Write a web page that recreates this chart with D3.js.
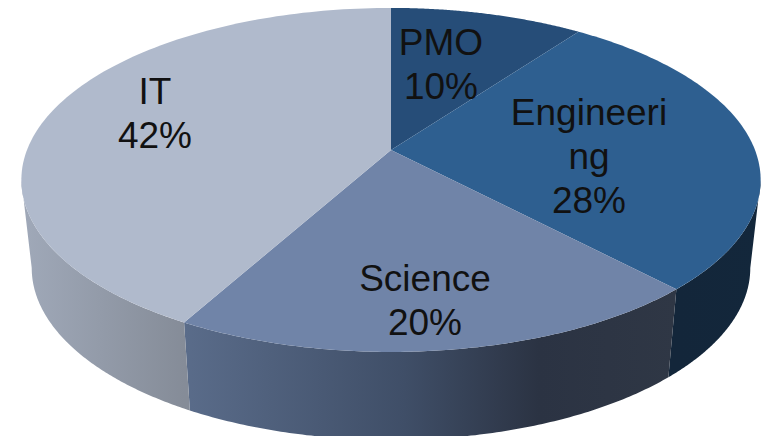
<!DOCTYPE html>
<html>
<head>
<meta charset="utf-8">
<script src="https://cdn.jsdelivr.net/npm/d3@7"></script>
<style>
  html, body { margin: 0; padding: 0; background: #fff; overflow: hidden; }
  text { font-family: "Liberation Sans", Arial, sans-serif; font-size: 37px; fill: #111; }
</style>
</head>
<body>
<svg id="chart" width="763" height="436"></svg>
<script>
const categories = ["PMO", "Engineering", "Science", "IT"];
const percents = [10, 28, 20, 42];
const label_lines = [["PMO", "10%"], ["Engineeri", "ng", "28%"], ["Science", "20%"], ["IT", "42%"]];

const top_colors = ["#264d78", "#2e5f90", "#7084a8", "#b0bacc"];
const wall_stops = [
  [[0, "#264d78"], [1, "#264d78"]],
  [[0, "#13263a"], [1, "#13273b"]],
  [[0, "#5a6c8a"], [0.45, "#3f4e67"], [0.72, "#2b3343"], [1, "#2f3745"]],
  [[0, "#a0a9b9"], [1, "#858c98"]]
];
const label_x = [441, 589, 425, 155];
const label_y = [55, 125, 291, 104];

const width = 763, height = 436;
const apex_x = 391, apex_y = 150;
const tilt = 0.174, rx = 364, ry = 166.8; // perspective of the disc
const depth = 88, shrink = 0.972, line_step = 44;

const svg = d3.select("#chart").attr("width", width).attr("height", height);

// angle is clockwise from 12 o'clock, like d3.pie gives it
const rimPoint = (angle) => {
  const X = Math.sin(angle), Y = -Math.cos(angle);
  const w = 1 - tilt * Y;
  return [apex_x + rx * X / w, apex_y + ry * Y / w];
};
const lowerPoint = (angle) => {
  const p = rimPoint(angle);
  return [apex_x + (p[0] - apex_x) * shrink, p[1] + depth];
};
const sampleAngles = (a0, a1) => d3.range(0, 121).map((i) => a0 + (a1 - a0) * i / 120);

// only the front of the rim has a wall, it ends where the rim is widest
const front_start = Math.acos(-tilt);
const front_end = 2 * Math.PI - front_start;
const wallAngles = (d) => {
  const a0 = Math.max(d.startAngle, front_start);
  const a1 = Math.min(d.endAngle, front_end);
  return a1 > a0 ? sampleAngles(a0, a1) : [];
};

const pie = d3.pie().sort(null).value((d) => d);
const slices = pie(percents);
const line = d3.line();

const defs = svg.append("defs");
slices.forEach((s, i) => {
  const xs = wallAngles(s).map((a) => rimPoint(a)[0]);
  const grad = defs.append("linearGradient")
    .attr("id", `wall${i}`)
    .attr("gradientUnits", "userSpaceOnUse")
    .attr("x1", d3.min(xs) || 0).attr("x2", d3.max(xs) || 1)
    .attr("y1", 0).attr("y2", 0);
  wall_stops[i].forEach((st) => {
    grad.append("stop").attr("offset", st[0]).attr("stop-color", st[1]);
  });
});

svg.append("g").selectAll("path").data(slices.filter((s) => wallAngles(s).length)).join("path")
  .attr("fill", (d) => `url(#wall${d.index})`)
  .attr("d", (d) => {
    const angles = wallAngles(d);
    const upper = angles.map(rimPoint);
    const lower = angles.slice().reverse().map(lowerPoint);
    return line(upper.concat(lower)) + "Z";
  });

svg.append("g").selectAll("path").data(slices).join("path")
  .attr("fill", (d, i) => top_colors[i])
  .attr("d", (d) => {
    const rim = sampleAngles(d.startAngle, d.endAngle).map(rimPoint);
    return line([[apex_x, apex_y]].concat(rim)) + "Z";
  });

const labels = svg.append("g").selectAll("text").data(label_lines).join("text")
  .attr("text-anchor", "middle");
labels.selectAll("tspan").data((d, i) => d.map((t, j) => ({ t, i, j }))).join("tspan")
  .attr("x", (d) => label_x[d.i])
  .attr("y", (d) => label_y[d.i] + d.j * line_step)
  .text((d) => d.t);
</script>
</body>
</html>
